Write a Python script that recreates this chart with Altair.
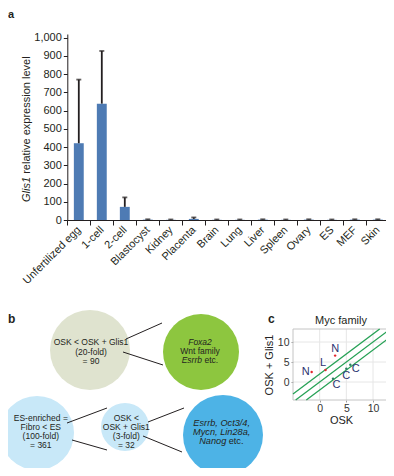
import altair as alt
import pandas as pd

FONT = "Liberation Sans"
INK = "#231f20"
W, H = 378, 460

# ---------------- data: panel a ----------------
tissues = ["Unfertilized egg", "1-cell", "2-cell", "Blastocyst", "Kidney", "Placenta",
           "Brain", "Lung", "Liver", "Spleen", "Ovary", "ES", "MEF", "Skin"]
expr_mean = [421, 638, 72, 2, 1, 6, 1, 1, 2, 1, 2, 1, 2, 2]
expr_upper = [770, 927, 124, 4, 3, 14, 3, 3, 4, 3, 4, 3, 4, 4]
a_ticks = [0, 100, 200, 300, 400, 500, 600, 700, 800, 900, 1000]

# ---------------- content: panel b ----------------
b_nodes = ["c1", "c2", "c3", "c4", "c5"]
b_lines = [
    ("c1", [("OSK < OSK + Glis1", "normal")]),
    ("c1", [("(20-fold)", "normal")]),
    ("c1", [("= 90", "normal")]),
    ("c2", [("Foxa2", "italic")]),
    ("c2", [("Wnt family", "normal")]),
    ("c2", [("Esrrb", "italic"), ("etc.", "normal")]),
    ("c3", [("ES-enriched =", "normal")]),
    ("c3", [("Fibro < ES", "normal")]),
    ("c3", [("(100-fold)", "normal")]),
    ("c3", [("= 361", "normal")]),
    ("c4", [("OSK <", "normal")]),
    ("c4", [("OSK + Glis1", "normal")]),
    ("c4", [("(3-fold)", "normal")]),
    ("c4", [("= 32", "normal")]),
    ("c5", [("Esrrb, Oct3/4,", "italic")]),
    ("c5", [("Mycn, Lin28a,", "italic")]),
    ("c5", [("Nanog", "italic"), ("etc.", "normal")]),
]

# ---------------- data: panel c ----------------
myc_gene = ["N", "L", "N", "C", "C", "C"]
myc_osk = [-1.5, 1.1, 2.9, 2.5, 5.0, 5.75]
myc_osk_glis1 = [2.5, 3.0, 6.6, 0.8, 3.3, 4.3]
fold_offsets = [2, 0, -2]
c_ticks = [0, 5, 10]

# ---------------- layout (pixels, relative to chart origin) ----------------
A_XR = [59.3, 381.3]
A_YR = [212, 26]
A_YD = [0, 1020]
C_XR = [285, 381]
C_YR = [392, 321]
C_XD = [-5, 13]
C_YD = [-4.5, 13.25]

b_layout = {  # centre x, centre y, radius, fill, text centre x, text centre y, font size
    "c1": (82, 342, 40, "#dfe3cf", 83, 343.5, 8.5),
    "c2": (193, 344, 38, "#8dc63f", 192, 342.9, 8.5),
    "c3": (29, 425, 37, "#c8e8f8", 32.8, 423.5, 8.5),
    "c4": (117, 419, 24, "#c8e8f8", 118.3, 423.5, 8.5),
    "c5": (215, 427, 40, "#4db3e6", 213.7, 423.8, 9.2),
}
b_link_pos = [((118, 331), (154, 315)), ((115, 344), (155, 357)),
              ((59, 415), (99, 400)), ((64, 432), (99, 442)),
              ((140, 414), (176, 400)), ((135, 428), (174, 444))]
b_split = {"Esrrb": 2.0, "Nanog": 4.6}
LINE_GAP = 9.2

myc_label_off = [(-6, 0), (-2.4, -7.3), (0, -6.4), (3.4, 6), (0, 6.7), (5.3, 4)]

# ---------------- panel a ----------------
dfa = pd.DataFrame({"tissue": tissues, "mean": expr_mean, "upper": expr_upper})
xa = alt.Scale(type="band", domain=tissues, range=A_XR, paddingInner=0, paddingOuter=0)
ya = alt.Scale(domain=A_YD, range=A_YR, nice=False, zero=False)

bars = alt.Chart(dfa).mark_bar(color="#4e7bb4", width=alt.RelativeBandSize(0.43)).encode(
    x=alt.X("tissue:N", scale=xa, sort=None, title=None,
            axis=alt.Axis(orient="bottom", offset=A_YR[0] - H, labelAngle=-45,
                          labelAlign="right", labelBaseline="middle",
                          labelFontSize=11, labelColor=INK, labelFont=FONT, labelPadding=3,
                          domainColor=INK, tickColor=INK, tickSize=5, tickBand="extent",
                          grid=False)),
    y=alt.Y("mean:Q", scale=ya, title=None,
            axis=alt.Axis(orient="left", offset=-A_XR[0], values=a_ticks, format=",.0f",
                          labelFontSize=11, labelColor=INK, labelFont=FONT, labelPadding=2,
                          domainColor=INK, tickColor=INK, tickSize=4, grid=False)),
)
err = alt.Chart(dfa).mark_rule(color=INK, strokeWidth=1.8).encode(
    x=alt.X("tissue:N", scale=xa, sort=None, axis=None),
    y=alt.Y("mean:Q", scale=ya, axis=None),
    y2="upper:Q",
)
cap = alt.Chart(dfa).mark_tick(color=INK, thickness=1.8, size=5, orient="horizontal").encode(
    x=alt.X("tissue:N", scale=xa, sort=None, axis=None),
    y=alt.Y("upper:Q", scale=ya, axis=None),
)


def label(text, x, y, **kw):
    return alt.Chart(pd.DataFrame({"t": [text]})).mark_text(font=FONT, color=INK, **kw).encode(
        x=alt.value(x), y=alt.value(y), text="t:N")


ytitle1 = label("Glis1", 18.7, 194, angle=270, align="left", baseline="middle",
                fontSize=11, fontStyle="italic")
ytitle2 = label("relative expression level", 18.7, 165.8, angle=270, align="left",
                baseline="middle", fontSize=11)
lab_a = label("a", 0, 9.5, align="left", baseline="alphabetic", fontSize=11, fontWeight="bold")
lab_b = label("b", 0, 315, align="left", baseline="alphabetic", fontSize=12, fontWeight="bold")
lab_c = label("c", 260, 315, align="left", baseline="alphabetic", fontSize=12, fontWeight="bold")

# ---------------- panel b ----------------
xb = alt.Scale(domain=[0, W], range=[0, W], nice=False, zero=False)
yb = alt.Scale(domain=[0, H], range=[0, H], nice=False, zero=False)

nodes_df = pd.DataFrame([
    {"node": n, "x": b_layout[n][0], "y": b_layout[n][1],
     "area": (2 * b_layout[n][2]) ** 2, "fill": b_layout[n][3]} for n in b_nodes])
circles = alt.Chart(nodes_df).mark_circle(opacity=1).encode(
    x=alt.X("x:Q", scale=xb, axis=None),
    y=alt.Y("y:Q", scale=yb, axis=None),
    size=alt.Size("area:Q", scale=None, legend=None),
    color=alt.Color("fill:N", scale=None, legend=None),
)
links_df = pd.DataFrame([{"x": p[0][0], "y": p[0][1], "x2": p[1][0], "y2": p[1][1]}
                         for p in b_link_pos])
links = alt.Chart(links_df).mark_rule(color=INK, strokeWidth=1).encode(
    x=alt.X("x:Q", scale=xb, axis=None), y=alt.Y("y:Q", scale=yb, axis=None),
    x2="x2:Q", y2="y2:Q")

rows = []
counts = {n: sum(1 for l in b_lines if l[0] == n) for n in b_nodes}
idx = {n: 0 for n in b_nodes}
for node, parts in b_lines:
    tx, ty, fs = b_layout[node][4], b_layout[node][5], b_layout[node][6]
    i = idx[node]
    idx[node] += 1
    yy = ty + (i - (counts[node] - 1) / 2) * LINE_GAP
    if len(parts) == 1:
        rows.append({"x": tx, "y": yy, "t": parts[0][0], "style": parts[0][1],
                     "align": "center", "fs": fs})
    else:
        s = b_split[parts[0][0]]
        rows.append({"x": tx + s, "y": yy, "t": parts[0][0], "style": parts[0][1],
                     "align": "right", "fs": fs})
        rows.append({"x": tx + s + 2.4, "y": yy, "t": parts[1][0], "style": parts[1][1],
                     "align": "left", "fs": fs})
btext_df = pd.DataFrame(rows)
btext_layers = []
for (style, align, fs), sub in btext_df.groupby(["style", "align", "fs"]):
    btext_layers.append(
        alt.Chart(sub).mark_text(font=FONT, color=INK, fontSize=float(fs), fontStyle=style,
                                 align=align, baseline="middle").encode(
            x=alt.X("x:Q", scale=xb, axis=None), y=alt.Y("y:Q", scale=yb, axis=None),
            text="t:N"))

# ---------------- panel c ----------------
xc = alt.Scale(domain=C_XD, range=C_XR, nice=False, zero=False)
yc = alt.Scale(domain=C_YD, range=C_YR, nice=False, zero=False)

vgrid = pd.DataFrame({"x": c_ticks, "y": [C_YD[0]] * 3, "y2": [C_YD[1]] * 3})
hgrid = pd.DataFrame({"y": c_ticks, "x": [C_XD[0]] * 3, "x2": [C_XD[1]] * 3})
GRID = "#e6e6e6"
vg = alt.Chart(vgrid).mark_rule(color=GRID, strokeWidth=1).encode(
    x=alt.X("x:Q", scale=xc, axis=None), y=alt.Y("y:Q", scale=yc, axis=None), y2="y2:Q")
hg = alt.Chart(hgrid).mark_rule(color=GRID, strokeWidth=1).encode(
    y=alt.Y("y:Q", scale=yc, axis=None), x=alt.X("x:Q", scale=xc, axis=None), x2="x2:Q")

frame_df = pd.DataFrame({"x": [C_XD[0]], "x2": [C_XD[1]], "y": [C_YD[0]], "y2": [C_YD[1]]})
frame = alt.Chart(frame_df).mark_rect(fillOpacity=0, stroke="#c4c4c4", strokeWidth=1).encode(
    x=alt.X("x:Q", scale=xc, title="OSK",
            axis=alt.Axis(orient="bottom", offset=C_YR[0] - H, values=c_ticks, domain=False,
                          grid=False, tickSize=2, tickColor="#999999", labelFontSize=10.5,
                          labelColor="#333333", labelFont=FONT, labelPadding=1,
                          titleFontSize=11, titleFontWeight="normal", titleColor="#222222",
                          titleFont=FONT, titlePadding=1)),
    x2="x2:Q",
    y=alt.Y("y:Q", scale=yc, title="OSK + Glis1",
            axis=alt.Axis(orient="left", offset=-C_XR[0], values=c_ticks, domain=False,
                          grid=False, tickSize=2, tickColor="#999999", labelFontSize=10.5,
                          labelColor="#333333", labelFont=FONT, labelPadding=2,
                          titleFontSize=11, titleFontWeight="normal", titleColor="#222222",
                          titleFont=FONT, titlePadding=3)),
    y2="y2:Q",
)

fold_rows = []
for c in fold_offsets:
    x0 = max(C_XD[0], C_YD[0] - c)
    x1 = min(C_XD[1], C_YD[1] - c)
    fold_rows.append({"x": x0, "y": x0 + c, "x2": x1, "y2": x1 + c})
folds = alt.Chart(pd.DataFrame(fold_rows)).mark_rule(color="#26a155", strokeWidth=1.3).encode(
    x=alt.X("x:Q", scale=xc, axis=None), y=alt.Y("y:Q", scale=yc, axis=None),
    x2="x2:Q", y2="y2:Q")

dfc = pd.DataFrame({"gene": myc_gene, "osk": myc_osk, "osk_glis1": myc_osk_glis1})
dots = alt.Chart(dfc).mark_circle(size=6, opacity=1).encode(
    x=alt.X("osk:Q", scale=xc, axis=None),
    y=alt.Y("osk_glis1:Q", scale=yc, axis=None),
    color=alt.Color("gene:N", scale=alt.Scale(domain=["N", "L", "C"],
                                              range=["#e3262d", "#e3262d", "#2a7f62"]),
                    legend=None),
)
gene_labels = []
for i, (dx, dy) in enumerate(myc_label_off):
    gene_labels.append(
        alt.Chart(dfc.iloc[[i]]).mark_text(font=FONT, fontSize=11, color="#2b3270",
                                           align="center", baseline="middle", dx=dx, dy=dy).encode(
            x=alt.X("osk:Q", scale=xc, axis=None),
            y=alt.Y("osk_glis1:Q", scale=yc, axis=None),
            text="gene:N"))
myc_title = label("Myc family", 333, 313, align="center", baseline="middle", fontSize=11)

layers = [bars, err, cap, ytitle1, ytitle2, lab_a, lab_b, lab_c,
          circles, links] + btext_layers + [vg, hg, frame, folds, dots] + gene_labels + [myc_title]

chart = alt.layer(*layers).resolve_scale(
    x="independent", y="independent", color="independent", size="independent"
).properties(
    width=W, height=H, padding=0, autosize=alt.AutoSizeParams(type="none")
).configure_view(stroke=None)

chart.save("out.html", embed_options={"renderer": "svg", "actions": False})
